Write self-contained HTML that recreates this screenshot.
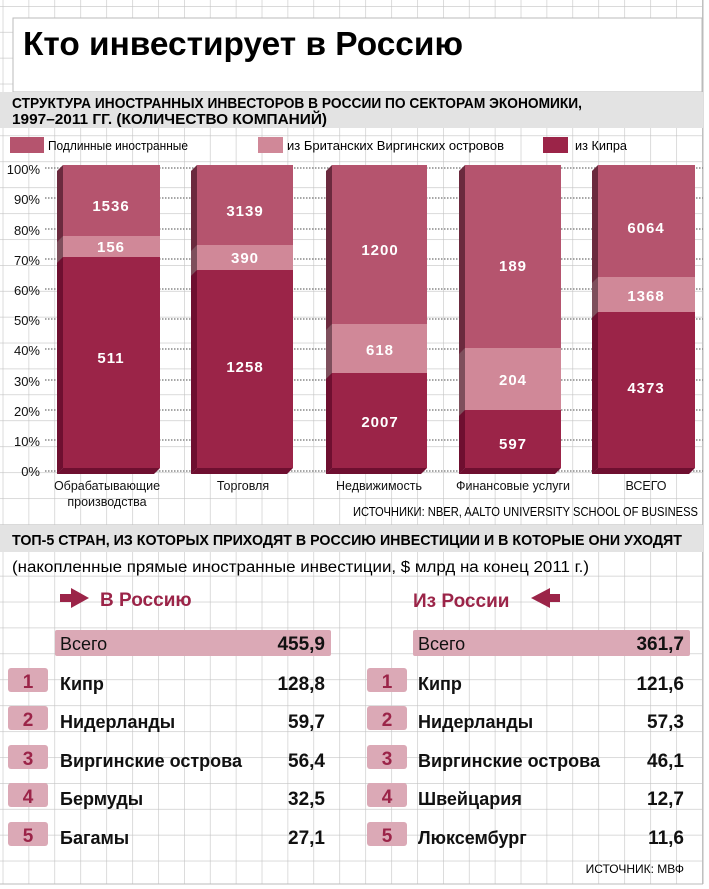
<!DOCTYPE html>
<html><head><meta charset="utf-8"><style>
body{margin:0;background:#fff;}
svg{display:block;font-family:"Liberation Sans Narrow","Liberation Sans",sans-serif;}
.b{font-family:"Liberation Sans","DejaVu Sans",sans-serif;font-weight:bold;}
</style></head><body>
<svg width="709" height="889" viewBox="0 0 709 889" xmlns="http://www.w3.org/2000/svg">
<defs>
<pattern id="g" x="2.7" y="6" width="25.9" height="25.9" patternUnits="userSpaceOnUse">
<path d="M0 0V25.9M0 0H25.9" stroke="#c4c4c4" stroke-width="1.2" fill="none"/>
</pattern>
</defs>
<rect x="0" y="0" width="703" height="884" fill="url(#g)"/>
<rect x="703" y="0" width="6" height="889" fill="#fff"/>
<line x1="703" y1="0" x2="703" y2="884" stroke="#bbb"/>
<line x1="0" y1="884" x2="703" y2="884" stroke="#bbb"/>
<!-- title box -->
<rect x="13" y="18" width="689" height="74" fill="#fff" stroke="#bbb"/>
<text x="23" y="55" class="b" font-size="33" textLength="440" lengthAdjust="spacingAndGlyphs">Кто инвестирует в Россию</text>
<rect x="0" y="92" width="703" height="36" fill="#e3e3e3"/>
<text x="12" y="108" font-size="15" font-weight="bold" textLength="570" lengthAdjust="spacingAndGlyphs">СТРУКТУРА ИНОСТРАННЫХ ИНВЕСТОРОВ В РОССИИ ПО СЕКТОРАМ ЭКОНОМИКИ,</text>
<text x="12" y="124" font-size="15" font-weight="bold" textLength="315" lengthAdjust="spacingAndGlyphs">1997–2011 ГГ. (КОЛИЧЕСТВО КОМПАНИЙ)</text>
<!-- legend -->
<rect x="10" y="137" width="34" height="16" fill="#b5546e"/>
<text x="48" y="150" font-size="12.5" textLength="140" lengthAdjust="spacingAndGlyphs">Подлинные иностранные</text>
<rect x="258" y="137" width="25" height="16" fill="#d08898"/>
<text x="287" y="150" font-size="12.5" textLength="217" lengthAdjust="spacingAndGlyphs">из Британских Виргинских островов</text>
<rect x="543" y="137" width="25" height="16" fill="#9b2448"/>
<text x="575" y="150" font-size="12.5" textLength="52" lengthAdjust="spacingAndGlyphs">из Кипра</text>
<!-- y axis -->
<g font-size="13" text-anchor="end" fill="#111">
<text x="40" y="174">100%</text><text x="40" y="204">90%</text><text x="40" y="235">80%</text>
<text x="40" y="265">70%</text><text x="40" y="295">60%</text><text x="40" y="325">50%</text>
<text x="40" y="355">40%</text><text x="40" y="386">30%</text><text x="40" y="416">20%</text>
<text x="40" y="446">10%</text><text x="40" y="476">0%</text>
</g>
<g stroke="#888" stroke-width="1.5" stroke-dasharray="1.5,1.5">
<line x1="45" y1="168" x2="703" y2="168"/><line x1="45" y1="198" x2="703" y2="198"/>
<line x1="45" y1="229" x2="703" y2="229"/><line x1="45" y1="259" x2="703" y2="259"/>
<line x1="45" y1="289" x2="703" y2="289"/><line x1="45" y1="319" x2="703" y2="319"/>
<line x1="45" y1="349" x2="703" y2="349"/><line x1="45" y1="380" x2="703" y2="380"/>
<line x1="45" y1="410" x2="703" y2="410"/><line x1="45" y1="440" x2="703" y2="440"/>
<line x1="45" y1="471" x2="703" y2="471"/>
</g>
<!-- bars -->
<g id="bars">
<!-- bar1 -->
<polygon points="57,171 63,165 63,468 57,474" fill="#6b2a3e"/>
<polygon points="57,474 63,468 160,468 154,474" fill="#6e0f30"/>
<rect x="63" y="165" width="97" height="71" fill="#b5546e"/>
<rect x="63" y="236" width="97" height="21" fill="#d08898"/>
<rect x="63" y="257" width="97" height="211" fill="#9b2448"/>
<polygon points="57,242 63,236 63,257 57,263" fill="#7e4f5c"/>
<polygon points="57,263 63,257 63,468 57,474" fill="#6e0f30"/>
<!-- bar2 -->
<polygon points="191,171 197,165 197,468 191,474" fill="#6b2a3e"/>
<polygon points="191,474 197,468 293,468 287,474" fill="#6e0f30"/>
<rect x="197" y="165" width="96" height="80" fill="#b5546e"/>
<rect x="197" y="245" width="96" height="25" fill="#d08898"/>
<rect x="197" y="270" width="96" height="198" fill="#9b2448"/>
<polygon points="191,251 197,245 197,270 191,276" fill="#7e4f5c"/>
<polygon points="191,276 197,270 197,468 191,474" fill="#6e0f30"/>
<!-- bar3 -->
<polygon points="326,171 332,165 332,468 326,474" fill="#6b2a3e"/>
<polygon points="326,474 332,468 427,468 421,474" fill="#6e0f30"/>
<rect x="332" y="165" width="95" height="159" fill="#b5546e"/>
<rect x="332" y="324" width="95" height="49" fill="#d08898"/>
<rect x="332" y="373" width="95" height="95" fill="#9b2448"/>
<polygon points="326,330 332,324 332,373 326,379" fill="#7e4f5c"/>
<polygon points="326,379 332,373 332,468 326,474" fill="#6e0f30"/>
<!-- bar4 -->
<polygon points="459,171 465,165 465,468 459,474" fill="#6b2a3e"/>
<polygon points="459,474 465,468 561,468 555,474" fill="#6e0f30"/>
<rect x="465" y="165" width="96" height="183" fill="#b5546e"/>
<rect x="465" y="348" width="96" height="62" fill="#d08898"/>
<rect x="465" y="410" width="96" height="58" fill="#9b2448"/>
<polygon points="459,354 465,348 465,410 459,416" fill="#7e4f5c"/>
<polygon points="459,416 465,410 465,468 459,474" fill="#6e0f30"/>
<!-- bar5 -->
<polygon points="592,171 598,165 598,468 592,474" fill="#6b2a3e"/>
<polygon points="592,474 598,468 695,468 689,474" fill="#6e0f30"/>
<rect x="598" y="165" width="97" height="112" fill="#b5546e"/>
<rect x="598" y="277" width="97" height="35" fill="#d08898"/>
<rect x="598" y="312" width="97" height="156" fill="#9b2448"/>
<polygon points="592,283 598,277 598,312 592,318" fill="#7e4f5c"/>
<polygon points="592,318 598,312 598,468 592,474" fill="#6e0f30"/>
</g>
<g class="b" font-size="15" fill="#fff" text-anchor="middle" letter-spacing="1">
<text x="111" y="211">1536</text><text x="111" y="252">156</text><text x="111" y="363">511</text>
<text x="245" y="216">3139</text><text x="245" y="263">390</text><text x="245" y="372">1258</text>
<text x="380" y="255">1200</text><text x="380" y="355">618</text><text x="380" y="427">2007</text>
<text x="513" y="271">189</text><text x="513" y="385">204</text><text x="513" y="449">597</text>
<text x="646" y="233">6064</text><text x="646" y="301">1368</text><text x="646" y="393">4373</text>
</g>
<g font-size="12.5" text-anchor="middle" fill="#111">
<text x="107" y="490">Обрабатывающие</text><text x="107" y="506">производства</text>
<text x="243" y="490">Торговля</text>
<text x="379" y="490">Недвижимость</text>
<text x="513" y="490">Финансовые услуги</text>
<text x="646" y="490">ВСЕГО</text>
</g>
<text x="698" y="516" font-size="12.5" text-anchor="end" textLength="345" lengthAdjust="spacingAndGlyphs">ИСТОЧНИКИ: NBER, AALTO UNIVERSITY SCHOOL OF BUSINESS</text>
<rect x="0" y="525" width="703" height="27" fill="#e3e3e3"/>
<text x="12" y="545" font-size="15" font-weight="bold" textLength="670" lengthAdjust="spacingAndGlyphs">ТОП-5 СТРАН, ИЗ КОТОРЫХ ПРИХОДЯТ В РОССИЮ ИНВЕСТИЦИИ И В КОТОРЫЕ ОНИ УХОДЯТ</text>
<text x="12" y="572" font-size="15.5" textLength="577" lengthAdjust="spacingAndGlyphs">(накопленные прямые иностранные инвестиции, $ млрд на конец 2011 г.)</text>
<!-- arrows -->
<polygon points="60,594 71,594 71,588 89,598 71,608 71,602 60,602" fill="#9b2448"/>
<text x="100" y="606" class="b" font-size="19" fill="#9b2448">В Россию</text>
<text x="413" y="607" class="b" font-size="19" fill="#9b2448">Из России</text>
<polygon points="560,594 550,594 550,588 531,598 550,608 550,602 560,602" fill="#9b2448"/>
<!-- tables -->
<g fill="#dba9b6">
<rect x="55" y="630" width="276" height="26" rx="2"/>
<rect x="413" y="630" width="277" height="26" rx="2"/>
<rect x="8" y="668" width="40" height="24" rx="3"/><rect x="8" y="706" width="40" height="24" rx="3"/>
<rect x="8" y="745" width="40" height="24" rx="3"/><rect x="8" y="783" width="40" height="24" rx="3"/>
<rect x="8" y="822" width="40" height="24" rx="3"/>
<rect x="367" y="668" width="40" height="24" rx="3"/><rect x="367" y="706" width="40" height="24" rx="3"/>
<rect x="367" y="745" width="40" height="24" rx="3"/><rect x="367" y="783" width="40" height="24" rx="3"/>
<rect x="367" y="822" width="40" height="24" rx="3"/>
</g>
<g class="b" font-size="19" fill="#9b2448" text-anchor="middle">
<text x="28" y="688">1</text><text x="28" y="726">2</text><text x="28" y="765">3</text><text x="28" y="803">4</text><text x="28" y="842">5</text>
<text x="387" y="688">1</text><text x="387" y="726">2</text><text x="387" y="765">3</text><text x="387" y="803">4</text><text x="387" y="842">5</text>
</g>
<g class="b" font-size="18" fill="#111">
<text x="60" y="650" font-weight="normal">Всего</text>
<text x="60" y="690">Кипр</text><text x="60" y="728">Нидерланды</text><text x="60" y="767">Виргинские острова</text>
<text x="60" y="805">Бермуды</text><text x="60" y="844">Багамы</text>
<text x="418" y="650" font-weight="normal">Всего</text>
<text x="418" y="690">Кипр</text><text x="418" y="728">Нидерланды</text><text x="418" y="767">Виргинские острова</text>
<text x="418" y="805">Швейцария</text><text x="418" y="844">Люксембург</text>
</g>
<g class="b" font-size="19" fill="#111" text-anchor="end">
<text x="325" y="650">455,9</text><text x="325" y="690">128,8</text><text x="325" y="728">59,7</text>
<text x="325" y="767">56,4</text><text x="325" y="805">32,5</text><text x="325" y="844">27,1</text>
<text x="684" y="650">361,7</text><text x="684" y="690">121,6</text><text x="684" y="728">57,3</text>
<text x="684" y="767">46,1</text><text x="684" y="805">12,7</text><text x="684" y="844">11,6</text>
</g>
<text x="684" y="873" font-size="12" text-anchor="end">ИСТОЧНИК: МВФ</text>
</svg>
</body></html>
